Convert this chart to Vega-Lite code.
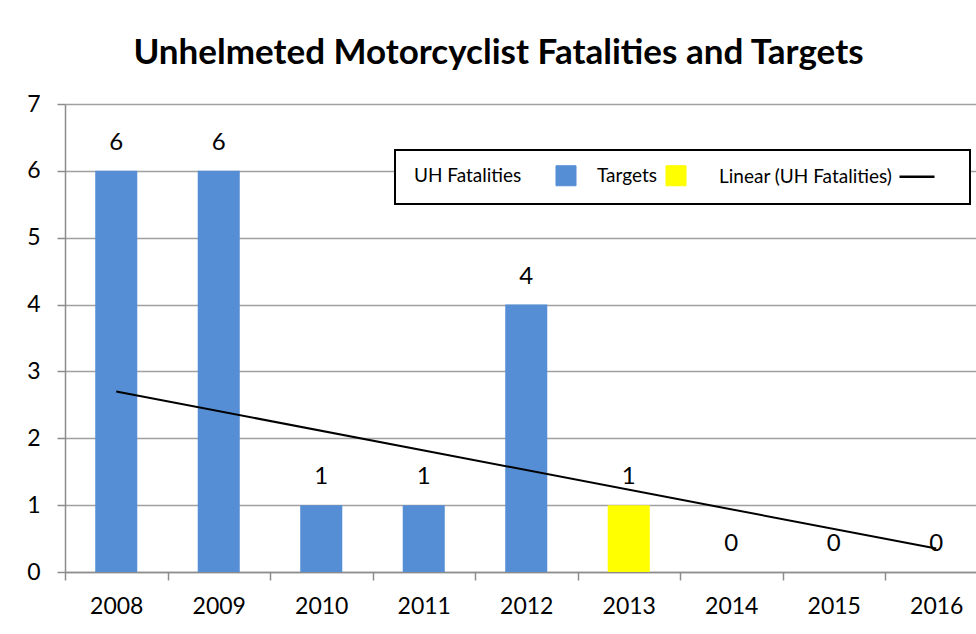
{
  "$schema": "https://vega.github.io/schema/vega-lite/v6.json",
  "autosize": "none",
  "padding": {"left": 65, "top": 104, "right": 0, "bottom": 62},
  "width": 911,
  "height": 468,
  "background": "white",
  "title": {
    "text": "Unhelmeted Motorcyclist Fatalities and Targets",
    "font": "Lato",
    "fontSize": 35,
    "fontWeight": "bold",
    "color": "black",
    "anchor": "middle",
    "dx": -22,
    "offset": 22
  },
  "datasets": {
    "bars": [
      {"year": "2008", "value": 6, "series": "UH Fatalities"},
      {"year": "2009", "value": 6, "series": "UH Fatalities"},
      {"year": "2010", "value": 1, "series": "UH Fatalities"},
      {"year": "2011", "value": 1, "series": "UH Fatalities"},
      {"year": "2012", "value": 4, "series": "UH Fatalities"},
      {"year": "2013", "value": 1, "series": "Targets"},
      {"year": "2014", "value": 0, "series": "Targets"},
      {"year": "2015", "value": 0, "series": "Targets"},
      {"year": "2016", "value": 0, "series": "Targets"}
    ],
    "trend": [
      {"year": "2008", "value": 2.7, "series": "Linear (UH Fatalities)"},
      {"year": "2016", "value": 0.35, "series": "Linear (UH Fatalities)"}
    ]
  },
  "encoding": {
    "x": {
      "field": "year",
      "type": "nominal",
      "sort": null,
      "scale": {"domain": ["2008","2009","2010","2011","2012","2013","2014","2015","2016"], "range": [0, 922.5], "paddingInner": 0.59, "paddingOuter": 0.295},
      "axis": {
        "title": null,
        "labelAngle": 0,
        "labelFont": "Lato",
        "labelFontSize": 23,
        "labelColor": "black",
        "labelPadding": 15,
        "tickOffset": -51.25,
        "labelOffset": 51.25,
        "tickSize": 8,
        "tickColor": "#8C8C8C",
        "tickWidth": 1.5,
        "domainColor": "#8C8C8C",
        "domainWidth": 1.5,
        "grid": false
      }
    },
    "y": {
      "field": "value",
      "type": "quantitative",
      "scale": {"domain": [0, 7], "nice": false},
      "axis": {
        "title": null,
        "values": [0,1,2,3,4,5,6,7],
        "labelFont": "Lato",
        "labelFontSize": 23,
        "labelColor": "black",
        "labelPadding": 17,
        "tickSize": 8,
        "tickColor": "#8C8C8C",
        "tickWidth": 1.5,
        "domainColor": "#8C8C8C",
        "domainWidth": 1.5,
        "grid": true,
        "gridColor": "#A0A0A0",
        "gridWidth": 1.5
      }
    }
  },
  "layer": [
    {
      "data": {"name": "bars"},
      "mark": {"type": "bar"},
      "encoding": {
        "color": {
          "field": "series",
          "type": "nominal",
          "scale": {"domain": ["UH Fatalities", "Targets", "Linear (UH Fatalities)"], "range": ["#558ED5", "#FFFF00", "#000000"]},
          "legend": {
            "title": " ",
            "titleOrient": "right",
            "titlePadding": 14,
            "titleFontSize": 19,
            "orient": "none",
            "legendX": 330,
            "legendY": 46,
            "direction": "horizontal",
            "strokeColor": "black",
            "fillColor": "white",
            "padding": 16,
            "labelFont": "Lato",
            "labelFontSize": 19,
            "labelColor": "black",
            "labelLimit": 400,
            "labelOffset": -16,
            "columnPadding": 16,
            "symbolSize": 400,
            "encode": {
              "legend": {"update": {"strokeWidth": {"value": 2}}},
              "labels": {
                "update": {
                  "dx": {"signal": "datum.value === 'Linear (UH Fatalities)' ? 12 : 0"}
                }
              },
              "symbols": {
                "update": {
                  "x": {"signal": "datum.value === 'Linear (UH Fatalities)' ? 213 : (datum.value === 'Targets' ? 82 : 155)"},
                  "shape": {"signal": "datum.value === 'Linear (UH Fatalities)' ? 'stroke' : 'square'"},
                  "fill": {"signal": "datum.value === 'Linear (UH Fatalities)' ? '#000000' : (datum.value === 'Targets' ? '#FFFF00' : '#558ED5')"},
                  "stroke": {"signal": "datum.value === 'Linear (UH Fatalities)' ? '#000000' : '#4A7EBB'"},
                  "strokeWidth": {"signal": "datum.value === 'Linear (UH Fatalities)' ? 2.5 : 1"},
                  "size": {"signal": "datum.value === 'Linear (UH Fatalities)' ? 1225 : 400"}
                }
              }
            }
          }
        }
      }
    },
    {
      "data": {"name": "bars"},
      "mark": {"type": "text", "font": "Lato", "fontSize": 24, "color": "black", "baseline": "middle", "dy": -28},
      "encoding": {"text": {"field": "value", "type": "quantitative"}}
    },
    {
      "data": {"name": "trend"},
      "mark": {"type": "line", "strokeWidth": 2},
      "encoding": {
        "color": {"field": "series", "type": "nominal"}
      }
    }
  ],
  "config": {"view": {"stroke": null}}
}
